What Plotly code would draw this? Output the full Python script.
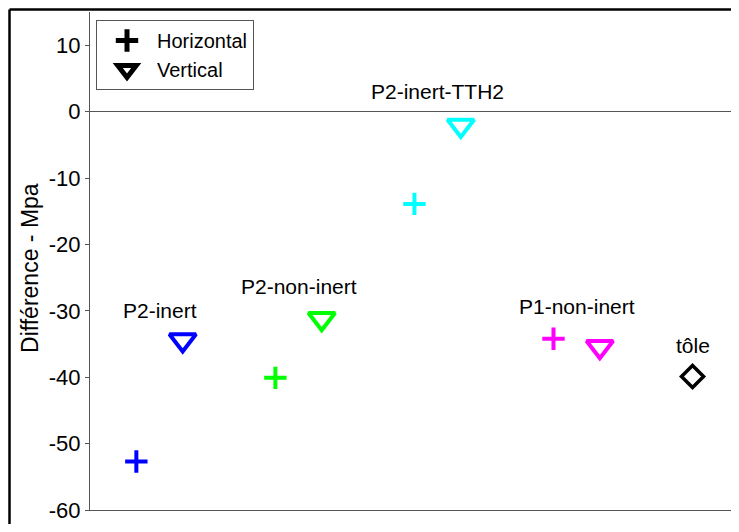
import plotly.graph_objects as go

# ---------------------------------------------------------------- DATA
groups = ["P2-inert", "P2-non-inert", "P2-inert-TTH2", "P1-non-inert"]
group_colors = ["#0000FF", "#00FF00", "#00FFFF", "#FF00FF"]

horiz_x = [1, 4, 7, 10]
horiz_y = [-52.7, -40.1, -13.9, -34.2]

vert_x = [2, 5, 8, 11]
vert_y = [-34.4, -31.2, -2.1, -35.4]

tole_x = [13]
tole_y = [-39.9]

label_text = groups + ["tôle"]
label_x = [1.5, 4.5, 7.5, 10.5, 13]
label_y = [-30.0, -26.4, 3.0, -29.3, -35.3]

y_ticks = [10, 0, -10, -20, -30, -40, -50, -60]
y_tick_text = ["10", "0", "-10", "-20", "-30", "-40", "-50", "-60"]

# ---------------------------------------------------------------- FIGURE
font_name = "Liberation Sans, Arial, sans-serif"

# the page body keeps an 8px margin, so the figure is made a bit smaller
fig_w, fig_h = 723, 516
m_l, m_t, m_b = 82, 4, 14
plot_w = fig_w - m_l
plot_h = fig_h - m_t - m_b

fig = go.Figure()

# horizontal measurements (+)
fig.add_trace(go.Scatter(
    x=horiz_x, y=horiz_y, mode="markers", showlegend=False,
    marker=dict(symbol="cross-thin", size=16, color=group_colors,
                line=dict(width=4, color=group_colors)),
))

# vertical measurements (triangle)
fig.add_trace(go.Scatter(
    x=vert_x, y=vert_y, mode="markers", showlegend=False,
    marker=dict(symbol="triangle-down-open", size=23, color=group_colors,
                line=dict(width=4, color=group_colors)),
))

# tôle (diamond)
fig.add_trace(go.Scatter(
    x=tole_x, y=tole_y, mode="markers", showlegend=False,
    marker=dict(symbol="diamond-open", size=17, color="black",
                line=dict(width=3.5, color="black")),
))

# legend-only entries in black
fig.add_trace(go.Scatter(
    x=[None], y=[None], mode="markers", name="Horizontal",
    marker=dict(symbol="cross-thin", size=16, color="black",
                line=dict(width=5, color="black")),
))
fig.add_trace(go.Scatter(
    x=[None], y=[None], mode="markers", name="Vertical",
    marker=dict(symbol="triangle-down-open", size=16, color="black",
                line=dict(width=5, color="black")),
))

# point labels
for txt, lx, ly in zip(label_text, label_x, label_y):
    fig.add_annotation(x=lx, y=ly, text=txt, showarrow=False,
                       xanchor="center", yanchor="middle",
                       font=dict(family=font_name, size=21, color="black"))

# y axis title
fig.add_annotation(xref="paper", yref="paper", x=(22 - m_l) / plot_w, y=0.486,
                   text="Différence - Mpa", textangle=-90, showarrow=False,
                   xanchor="center", yanchor="middle",
                   font=dict(family=font_name, size=23, color="black"))

# outer figure frame: left and top edges only
frame_x = (1.5 - m_l) / plot_w
frame_y = (plot_h + m_t - 1.5) / plot_h
fig.add_shape(type="line", xref="paper", yref="paper",
              x0=frame_x, x1=frame_x, y0=-0.1, y1=frame_y,
              line=dict(color="black", width=2.5))
fig.add_shape(type="line", xref="paper", yref="paper",
              x0=frame_x, x1=1.0, y0=frame_y, y1=frame_y,
              line=dict(color="black", width=2.5))

fig.update_layout(
    width=fig_w, height=fig_h,
    margin=dict(l=m_l, r=0, t=m_t, b=m_b, autoexpand=False),
    paper_bgcolor="white", plot_bgcolor="white",
    font=dict(family=font_name, color="black"),
    xaxis=dict(range=[0, 13.83], showticklabels=False, ticks="",
               showgrid=False, zeroline=False, automargin=False,
               showline=True, linecolor="#555555", linewidth=1),
    yaxis=dict(range=[-60, 15], tickvals=y_ticks, ticktext=y_tick_text,
               ticks="outside", automargin=False, ticklabeloverflow="allow",
               ticklen=4, tickcolor="#555555", showgrid=False,
               zeroline=True, zerolinecolor="#555555", zerolinewidth=1,
               showline=True, linecolor="#555555", linewidth=1,
               tickfont=dict(family=font_name, size=22, color="black")),
    legend=dict(x=(88 - m_l) / plot_w, y=(plot_h + m_t - 12) / plot_h,
                xanchor="left", yanchor="top",
                bgcolor="white", bordercolor="#555555", borderwidth=1,
                font=dict(family=font_name, size=20, color="black"),
                tracegroupgap=0, itemwidth=50),
)

fig.write_html("out.html")
